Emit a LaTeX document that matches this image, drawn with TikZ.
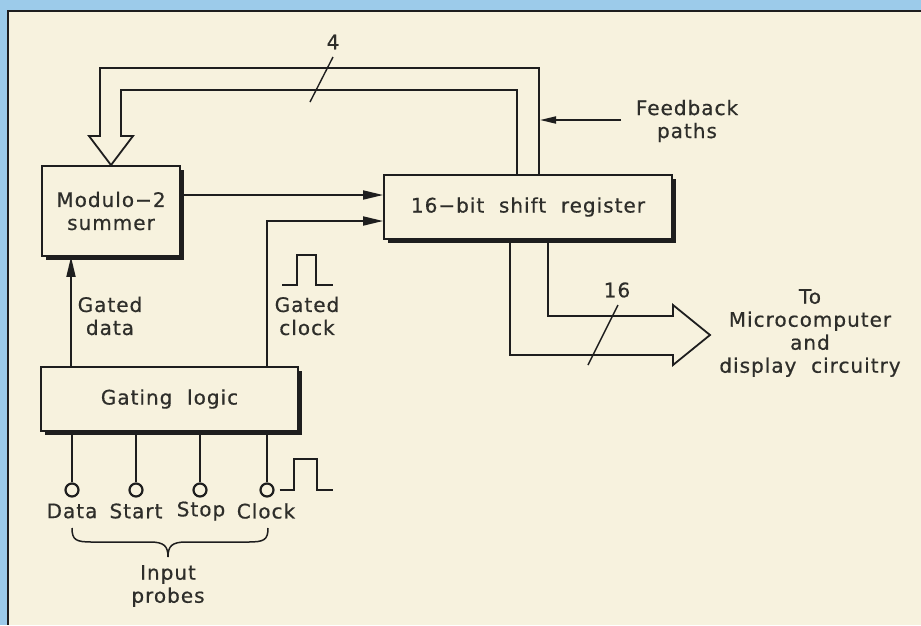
\documentclass[tikz,border=0pt]{standalone}
\usepackage{fontspec}
\setmainfont{DejaVu Sans}[LetterSpace=5,FakeBold=0.6]
\usetikzlibrary{arrows.meta,shadows}
\definecolor{paper}{HTML}{F7F2DE}
\definecolor{sky}{HTML}{9CCBEA}
\definecolor{ink}{HTML}{1E1E1E}
\definecolor{txt}{HTML}{2E2E2A}
\begin{document}
\begin{tikzpicture}[x=1pt,y=-1pt,
  box/.style={draw=ink, line width=1.8pt, fill=paper, inner sep=0pt, text=txt, align=center,
    font=\fontsize{20}{23}\selectfont,
    drop shadow={shadow xshift=4pt, shadow yshift=-4pt, fill=ink, opacity=1}},
  wire/.style={draw=ink, line width=1.8pt},
  lbl/.style={text=txt, align=center, font=\fontsize{20}{23}\selectfont, inner sep=0pt},
  probe/.style={circle, draw=ink, line width=2.2pt, fill=paper, minimum size=13pt, inner sep=0pt},
  arr/.style={-{Triangle[length=20pt,width=9pt]}},
]
\useasboundingbox (0,0) rectangle (921,625);
\fill[paper] (0,0) rectangle (921,625);
\fill[sky] (0,0) rectangle (921,10);
\fill[sky] (0,0) rectangle (7,625);
\draw[ink, line width=2.5pt] (921,11) -- (8,11) -- (8,625);

% blocks
\node[box, minimum width=138pt, minimum height=90pt] (summer) at (111,211) {Modulo−2\\summer};
\node[box, minimum width=288pt, minimum height=64pt] (reg) at (528,207) {16−bit\ \ shift\ \ register};
\node[box, minimum width=257pt, minimum height=64pt] (gate) at (169.5,399) {Gating\ \ logic};

% summer -> register, gated clock -> register
\draw[wire,arr] (summer.east |- 0,195) -- (reg.west |- 0,195);
\draw[wire,arr] (gate.north -| 267,0) |- (reg.west |- 0,221);
\draw[wire,arr] (gate.north -| 71,0) -- (summer.south -| 71,0);

% feedback bus (4)
\draw[wire, line join=miter] (reg.north -| 539,0) -- (539,68) -- (100,68) -- (100,136) -- (89,136)
  -- (summer.north) -- (133,136) -- (121,136) -- (121,90) -- (517,90) -- (reg.north -| 517,0);
\draw[wire, line width=1.4pt] (310,102) -- (333,57);
\node[lbl] (n4) at (333,42) {4};

% feedback label
\node[lbl] (fb) at (687,121) {Feedback\\paths};
\coordinate (fbs) at (621,120);
\coordinate (fbe) at (540,120);
\draw[wire, -{Triangle[length=16pt,width=7pt]}] (fbs) -- (fbe);

% output bus (16)
\draw[wire, line join=miter] (reg.south -| 510,0) -- (510,355) -- (673,355) -- (673,365) -- (710,335)
  -- (673,305) -- (673,316) -- (548,316) -- (reg.south -| 548,0);
\draw[wire, line width=1.4pt] (588,365) -- (618,305);
\node[lbl] (n16) at (617,290) {16};
\node[lbl] (dest) at (810,333) {To\\Microcomputer\\and\\display\ \ circuitry};

% gated labels
\node[lbl] (gd) at (110,316) {Gated\\data};
\node[lbl] (gc) at (307,316) {Gated\\clock};
\draw[wire, line join=miter] (282,285) -- (297,285) -- (297,255) -- (316,255) -- (316,285) -- (333,285);

% probes
\node[probe] (pd) at (72,490) {};
\node[probe] (ps) at (136,490) {};
\node[probe] (pt) at (200,490) {};
\node[probe] (pc) at (267,490) {};
\draw[wire] (gate.south -| pd) -- (pd.north);
\draw[wire] (gate.south -| ps) -- (ps.north);
\draw[wire] (gate.south -| pt) -- (pt.north);
\draw[wire] (gate.south -| pc) -- (pc.north);
\draw[wire, line join=miter] (pc.east) ++(5,0) -- (294,490) -- (294,459) -- (317,459) -- (317,490) -- (333,490);

\node[lbl] (ld) at (72,511) {Data};
\node[lbl] (ls) at (136,511) {Start};
\node[lbl] (lt) at (201,511) {Stop};
\node[lbl] (lc) at (266,511) {Clock};

% brace
\draw[wire, line width=1.5pt] (72,528) .. controls (72,540) and (76,542) .. (92,542) -- (150,542)
  .. controls (164,542) and (168,546) .. (168,557)
  .. controls (168,546) and (172,542) .. (186,542) -- (248,542)
  .. controls (264,542) and (268,540) .. (268,528);
\node[lbl] (ip) at (168,586) {Input\\probes};
\end{tikzpicture}
\end{document}
